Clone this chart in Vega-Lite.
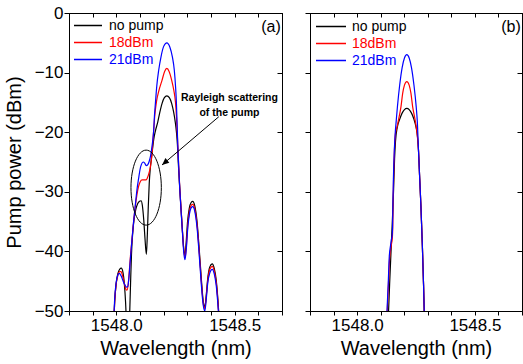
{
"$schema": "https://vega.github.io/schema/vega-lite/v6.json",
"autosize": {"type": "none"},
"padding": {"left": 69, "top": 13, "right": 454, "bottom": 351},
"bounds": "flush",
"spacing": 28,
"config": {
  "font": "Liberation Sans",
  "view": {"stroke": "black", "strokeWidth": 1},
  "axis": {"grid": false, "domainColor": "black", "tickColor": "black", "labelColor": "black", "titleColor": "black",
           "labelFont": "Liberation Sans", "titleFont": "Liberation Sans", "labelFontSize": 17, "titleFontSize": 20,
           "titleFontWeight": "normal", "domainWidth": 1, "tickWidth": 1},
  "legend": {"padding": 0, "title": null, "symbolType": "stroke", "labelFont": "Liberation Sans", "labelFontSize": 14, "clipHeight": 17, "rowPadding": 0}
},
"datasets": {
  "spectra": [
{"panel":"a","series":"no pump","wavelength":1547.988,"power":-53},
{"panel":"a","series":"no pump","wavelength":1547.993,"power":-48.5},
{"panel":"a","series":"no pump","wavelength":1547.999,"power":-45.5},
{"panel":"a","series":"no pump","wavelength":1548.006,"power":-43.8},
{"panel":"a","series":"no pump","wavelength":1548.014,"power":-43.0},
{"panel":"a","series":"no pump","wavelength":1548.021,"power":-42.8},
{"panel":"a","series":"no pump","wavelength":1548.028,"power":-43.5},
{"panel":"a","series":"no pump","wavelength":1548.034,"power":-45.5},
{"panel":"a","series":"no pump","wavelength":1548.039,"power":-48.5},
{"panel":"a","series":"no pump","wavelength":1548.043,"power":-52},
{"panel":"a","series":"no pump","wavelength":1548.050,"power":-58},
{"panel":"a","series":"no pump","wavelength":1548.056,"power":-51},
{"panel":"a","series":"no pump","wavelength":1548.060,"power":-45.5},
{"panel":"a","series":"no pump","wavelength":1548.064,"power":-40.5},
{"panel":"a","series":"no pump","wavelength":1548.069,"power":-37},
{"panel":"a","series":"no pump","wavelength":1548.075,"power":-34.6},
{"panel":"a","series":"no pump","wavelength":1548.082,"power":-33.0},
{"panel":"a","series":"no pump","wavelength":1548.090,"power":-32.0},
{"panel":"a","series":"no pump","wavelength":1548.098,"power":-31.6},
{"panel":"a","series":"no pump","wavelength":1548.1045,"power":-31.5},
{"panel":"a","series":"no pump","wavelength":1548.110,"power":-32.3},
{"panel":"a","series":"no pump","wavelength":1548.116,"power":-34.8},
{"panel":"a","series":"no pump","wavelength":1548.121,"power":-37.8},
{"panel":"a","series":"no pump","wavelength":1548.127,"power":-40.5},
{"panel":"a","series":"no pump","wavelength":1548.131,"power":-37.2},
{"panel":"a","series":"no pump","wavelength":1548.135,"power":-32.5},
{"panel":"a","series":"no pump","wavelength":1548.139,"power":-28.6},
{"panel":"a","series":"no pump","wavelength":1548.143,"power":-26.3},
{"panel":"a","series":"no pump","wavelength":1548.148,"power":-24.5},
{"panel":"a","series":"no pump","wavelength":1548.153,"power":-22.8},
{"panel":"a","series":"no pump","wavelength":1548.158,"power":-21.2},
{"panel":"a","series":"no pump","wavelength":1548.165,"power":-19.8},
{"panel":"a","series":"no pump","wavelength":1548.175,"power":-18.3},
{"panel":"a","series":"no pump","wavelength":1548.183,"power":-16.8},
{"panel":"a","series":"no pump","wavelength":1548.193,"power":-15.2},
{"panel":"a","series":"no pump","wavelength":1548.203,"power":-14.2},
{"panel":"a","series":"no pump","wavelength":1548.2135,"power":-13.9},
{"panel":"a","series":"no pump","wavelength":1548.224,"power":-14.2},
{"panel":"a","series":"no pump","wavelength":1548.234,"power":-15.2},
{"panel":"a","series":"no pump","wavelength":1548.242,"power":-16.6},
{"panel":"a","series":"no pump","wavelength":1548.249,"power":-18.3},
{"panel":"a","series":"no pump","wavelength":1548.254,"power":-20},
{"panel":"a","series":"no pump","wavelength":1548.258,"power":-22},
{"panel":"a","series":"no pump","wavelength":1548.262,"power":-25.3},
{"panel":"a","series":"no pump","wavelength":1548.267,"power":-28.8},
{"panel":"a","series":"no pump","wavelength":1548.272,"power":-32},
{"panel":"a","series":"no pump","wavelength":1548.278,"power":-35.8},
{"panel":"a","series":"no pump","wavelength":1548.284,"power":-39.2},
{"panel":"a","series":"no pump","wavelength":1548.290,"power":-40.6},
{"panel":"a","series":"no pump","wavelength":1548.295,"power":-38.5},
{"panel":"a","series":"no pump","wavelength":1548.301,"power":-35},
{"panel":"a","series":"no pump","wavelength":1548.308,"power":-32.8},
{"panel":"a","series":"no pump","wavelength":1548.316,"power":-31.8},
{"panel":"a","series":"no pump","wavelength":1548.323,"power":-31.6},
{"panel":"a","series":"no pump","wavelength":1548.331,"power":-32.3},
{"panel":"a","series":"no pump","wavelength":1548.341,"power":-35.0},
{"panel":"a","series":"no pump","wavelength":1548.350,"power":-39.5},
{"panel":"a","series":"no pump","wavelength":1548.359,"power":-44.5},
{"panel":"a","series":"no pump","wavelength":1548.367,"power":-48.3},
{"panel":"a","series":"no pump","wavelength":1548.374,"power":-49.3},
{"panel":"a","series":"no pump","wavelength":1548.380,"power":-47.3},
{"panel":"a","series":"no pump","wavelength":1548.386,"power":-44.6},
{"panel":"a","series":"no pump","wavelength":1548.395,"power":-42.6},
{"panel":"a","series":"no pump","wavelength":1548.405,"power":-42.1},
{"panel":"a","series":"no pump","wavelength":1548.414,"power":-42.9},
{"panel":"a","series":"no pump","wavelength":1548.422,"power":-44.8},
{"panel":"a","series":"no pump","wavelength":1548.429,"power":-48},
{"panel":"a","series":"no pump","wavelength":1548.434,"power":-51},
{"panel":"a","series":"no pump","wavelength":1548.438,"power":-54},
{"panel":"a","series":"18dBm","wavelength":1547.988,"power":-53},
{"panel":"a","series":"18dBm","wavelength":1547.993,"power":-48.5},
{"panel":"a","series":"18dBm","wavelength":1547.999,"power":-45.6},
{"panel":"a","series":"18dBm","wavelength":1548.006,"power":-44.1},
{"panel":"a","series":"18dBm","wavelength":1548.014,"power":-43.4},
{"panel":"a","series":"18dBm","wavelength":1548.020,"power":-43.4},
{"panel":"a","series":"18dBm","wavelength":1548.027,"power":-44.2},
{"panel":"a","series":"18dBm","wavelength":1548.035,"power":-45.6},
{"panel":"a","series":"18dBm","wavelength":1548.041,"power":-46.4},
{"panel":"a","series":"18dBm","wavelength":1548.045,"power":-46.5},
{"panel":"a","series":"18dBm","wavelength":1548.050,"power":-45.6},
{"panel":"a","series":"18dBm","wavelength":1548.055,"power":-43.2},
{"panel":"a","series":"18dBm","wavelength":1548.060,"power":-40.6},
{"panel":"a","series":"18dBm","wavelength":1548.066,"power":-38.1},
{"panel":"a","series":"18dBm","wavelength":1548.073,"power":-35.0},
{"panel":"a","series":"18dBm","wavelength":1548.080,"power":-32.5},
{"panel":"a","series":"18dBm","wavelength":1548.087,"power":-30.5},
{"panel":"a","series":"18dBm","wavelength":1548.094,"power":-29.1},
{"panel":"a","series":"18dBm","wavelength":1548.101,"power":-28.3},
{"panel":"a","series":"18dBm","wavelength":1548.109,"power":-28.0},
{"panel":"a","series":"18dBm","wavelength":1548.118,"power":-28.0},
{"panel":"a","series":"18dBm","wavelength":1548.126,"power":-28.0},
{"panel":"a","series":"18dBm","wavelength":1548.131,"power":-27.7},
{"panel":"a","series":"18dBm","wavelength":1548.137,"power":-27.0},
{"panel":"a","series":"18dBm","wavelength":1548.144,"power":-25.8},
{"panel":"a","series":"18dBm","wavelength":1548.151,"power":-23.5},
{"panel":"a","series":"18dBm","wavelength":1548.155,"power":-21.2},
{"panel":"a","series":"18dBm","wavelength":1548.158,"power":-19.6},
{"panel":"a","series":"18dBm","wavelength":1548.163,"power":-17.0},
{"panel":"a","series":"18dBm","wavelength":1548.170,"power":-14.8},
{"panel":"a","series":"18dBm","wavelength":1548.180,"power":-13.0},
{"panel":"a","series":"18dBm","wavelength":1548.193,"power":-11.3},
{"panel":"a","series":"18dBm","wavelength":1548.204,"power":-9.8},
{"panel":"a","series":"18dBm","wavelength":1548.2135,"power":-9.3},
{"panel":"a","series":"18dBm","wavelength":1548.223,"power":-9.8},
{"panel":"a","series":"18dBm","wavelength":1548.234,"power":-11.3},
{"panel":"a","series":"18dBm","wavelength":1548.243,"power":-13.0},
{"panel":"a","series":"18dBm","wavelength":1548.250,"power":-15.0},
{"panel":"a","series":"18dBm","wavelength":1548.254,"power":-17.3},
{"panel":"a","series":"18dBm","wavelength":1548.257,"power":-19.8},
{"panel":"a","series":"18dBm","wavelength":1548.260,"power":-22.5},
{"panel":"a","series":"18dBm","wavelength":1548.264,"power":-26},
{"panel":"a","series":"18dBm","wavelength":1548.268,"power":-29.3},
{"panel":"a","series":"18dBm","wavelength":1548.273,"power":-32.5},
{"panel":"a","series":"18dBm","wavelength":1548.279,"power":-36.3},
{"panel":"a","series":"18dBm","wavelength":1548.285,"power":-39.8},
{"panel":"a","series":"18dBm","wavelength":1548.291,"power":-41.0},
{"panel":"a","series":"18dBm","wavelength":1548.296,"power":-39},
{"panel":"a","series":"18dBm","wavelength":1548.302,"power":-35.5},
{"panel":"a","series":"18dBm","wavelength":1548.309,"power":-33.2},
{"panel":"a","series":"18dBm","wavelength":1548.316,"power":-32.3},
{"panel":"a","series":"18dBm","wavelength":1548.323,"power":-32.1},
{"panel":"a","series":"18dBm","wavelength":1548.331,"power":-32.8},
{"panel":"a","series":"18dBm","wavelength":1548.341,"power":-35.5},
{"panel":"a","series":"18dBm","wavelength":1548.350,"power":-40},
{"panel":"a","series":"18dBm","wavelength":1548.359,"power":-45},
{"panel":"a","series":"18dBm","wavelength":1548.367,"power":-48.6},
{"panel":"a","series":"18dBm","wavelength":1548.374,"power":-49.6},
{"panel":"a","series":"18dBm","wavelength":1548.380,"power":-47.6},
{"panel":"a","series":"18dBm","wavelength":1548.386,"power":-45},
{"panel":"a","series":"18dBm","wavelength":1548.395,"power":-43.0},
{"panel":"a","series":"18dBm","wavelength":1548.405,"power":-42.5},
{"panel":"a","series":"18dBm","wavelength":1548.414,"power":-43.3},
{"panel":"a","series":"18dBm","wavelength":1548.422,"power":-45.2},
{"panel":"a","series":"18dBm","wavelength":1548.429,"power":-48.3},
{"panel":"a","series":"18dBm","wavelength":1548.434,"power":-51.3},
{"panel":"a","series":"18dBm","wavelength":1548.438,"power":-54},
{"panel":"a","series":"21dBm","wavelength":1547.988,"power":-53},
{"panel":"a","series":"21dBm","wavelength":1547.993,"power":-48},
{"panel":"a","series":"21dBm","wavelength":1547.999,"power":-45.3},
{"panel":"a","series":"21dBm","wavelength":1548.006,"power":-44.0},
{"panel":"a","series":"21dBm","wavelength":1548.0127,"power":-43.7},
{"panel":"a","series":"21dBm","wavelength":1548.020,"power":-44.1},
{"panel":"a","series":"21dBm","wavelength":1548.028,"power":-44.9},
{"panel":"a","series":"21dBm","wavelength":1548.036,"power":-45.6},
{"panel":"a","series":"21dBm","wavelength":1548.043,"power":-46.0},
{"panel":"a","series":"21dBm","wavelength":1548.048,"power":-45.9},
{"panel":"a","series":"21dBm","wavelength":1548.053,"power":-44.5},
{"panel":"a","series":"21dBm","wavelength":1548.058,"power":-42},
{"panel":"a","series":"21dBm","wavelength":1548.063,"power":-39.5},
{"panel":"a","series":"21dBm","wavelength":1548.066,"power":-38.1},
{"panel":"a","series":"21dBm","wavelength":1548.073,"power":-35.0},
{"panel":"a","series":"21dBm","wavelength":1548.080,"power":-32.3},
{"panel":"a","series":"21dBm","wavelength":1548.087,"power":-29.7},
{"panel":"a","series":"21dBm","wavelength":1548.094,"power":-27.8},
{"panel":"a","series":"21dBm","wavelength":1548.100,"power":-26.3},
{"panel":"a","series":"21dBm","wavelength":1548.106,"power":-25.4},
{"panel":"a","series":"21dBm","wavelength":1548.113,"power":-25.0},
{"panel":"a","series":"21dBm","wavelength":1548.120,"power":-25.2},
{"panel":"a","series":"21dBm","wavelength":1548.126,"power":-25.6},
{"panel":"a","series":"21dBm","wavelength":1548.132,"power":-25.5},
{"panel":"a","series":"21dBm","wavelength":1548.138,"power":-25.0},
{"panel":"a","series":"21dBm","wavelength":1548.144,"power":-24.1},
{"panel":"a","series":"21dBm","wavelength":1548.150,"power":-22.6},
{"panel":"a","series":"21dBm","wavelength":1548.155,"power":-21.0},
{"panel":"a","series":"21dBm","wavelength":1548.158,"power":-19.6},
{"panel":"a","series":"21dBm","wavelength":1548.161,"power":-17.3},
{"panel":"a","series":"21dBm","wavelength":1548.165,"power":-15.2},
{"panel":"a","series":"21dBm","wavelength":1548.171,"power":-12.2},
{"panel":"a","series":"21dBm","wavelength":1548.179,"power":-9.6},
{"panel":"a","series":"21dBm","wavelength":1548.189,"power":-7.3},
{"panel":"a","series":"21dBm","wavelength":1548.200,"power":-5.6},
{"panel":"a","series":"21dBm","wavelength":1548.2135,"power":-5.0},
{"panel":"a","series":"21dBm","wavelength":1548.226,"power":-5.7},
{"panel":"a","series":"21dBm","wavelength":1548.237,"power":-7.4},
{"panel":"a","series":"21dBm","wavelength":1548.245,"power":-9.6},
{"panel":"a","series":"21dBm","wavelength":1548.250,"power":-12.2},
{"panel":"a","series":"21dBm","wavelength":1548.254,"power":-15.2},
{"panel":"a","series":"21dBm","wavelength":1548.257,"power":-19.0},
{"panel":"a","series":"21dBm","wavelength":1548.260,"power":-22.6},
{"panel":"a","series":"21dBm","wavelength":1548.264,"power":-26.2},
{"panel":"a","series":"21dBm","wavelength":1548.268,"power":-29.5},
{"panel":"a","series":"21dBm","wavelength":1548.273,"power":-32.8},
{"panel":"a","series":"21dBm","wavelength":1548.279,"power":-36.6},
{"panel":"a","series":"21dBm","wavelength":1548.285,"power":-40.2},
{"panel":"a","series":"21dBm","wavelength":1548.290,"power":-41.4},
{"panel":"a","series":"21dBm","wavelength":1548.296,"power":-39.4},
{"panel":"a","series":"21dBm","wavelength":1548.302,"power":-36},
{"panel":"a","series":"21dBm","wavelength":1548.309,"power":-33.7},
{"panel":"a","series":"21dBm","wavelength":1548.316,"power":-32.7},
{"panel":"a","series":"21dBm","wavelength":1548.323,"power":-32.5},
{"panel":"a","series":"21dBm","wavelength":1548.331,"power":-33.2},
{"panel":"a","series":"21dBm","wavelength":1548.341,"power":-36},
{"panel":"a","series":"21dBm","wavelength":1548.350,"power":-40.5},
{"panel":"a","series":"21dBm","wavelength":1548.359,"power":-45.5},
{"panel":"a","series":"21dBm","wavelength":1548.367,"power":-49},
{"panel":"a","series":"21dBm","wavelength":1548.374,"power":-50},
{"panel":"a","series":"21dBm","wavelength":1548.380,"power":-48},
{"panel":"a","series":"21dBm","wavelength":1548.386,"power":-45.4},
{"panel":"a","series":"21dBm","wavelength":1548.395,"power":-43.6},
{"panel":"a","series":"21dBm","wavelength":1548.405,"power":-43.0},
{"panel":"a","series":"21dBm","wavelength":1548.414,"power":-43.8},
{"panel":"a","series":"21dBm","wavelength":1548.422,"power":-45.7},
{"panel":"a","series":"21dBm","wavelength":1548.429,"power":-48.8},
{"panel":"a","series":"21dBm","wavelength":1548.434,"power":-51.6},
{"panel":"a","series":"21dBm","wavelength":1548.438,"power":-54},
{"panel":"b","series":"no pump","wavelength":1548.129,"power":-55},
{"panel":"b","series":"no pump","wavelength":1548.1336,"power":-50},
{"panel":"b","series":"no pump","wavelength":1548.138,"power":-45.5},
{"panel":"b","series":"no pump","wavelength":1548.144,"power":-40},
{"panel":"b","series":"no pump","wavelength":1548.150,"power":-34.5},
{"panel":"b","series":"no pump","wavelength":1548.155,"power":-29.5},
{"panel":"b","series":"no pump","wavelength":1548.159,"power":-24.5},
{"panel":"b","series":"no pump","wavelength":1548.163,"power":-21.5},
{"panel":"b","series":"no pump","wavelength":1548.171,"power":-19.1},
{"panel":"b","series":"no pump","wavelength":1548.181,"power":-17.8},
{"panel":"b","series":"no pump","wavelength":1548.191,"power":-16.8},
{"panel":"b","series":"no pump","wavelength":1548.201,"power":-16.2},
{"panel":"b","series":"no pump","wavelength":1548.211,"power":-16.0},
{"panel":"b","series":"no pump","wavelength":1548.221,"power":-16.2},
{"panel":"b","series":"no pump","wavelength":1548.231,"power":-16.8},
{"panel":"b","series":"no pump","wavelength":1548.241,"power":-17.8},
{"panel":"b","series":"no pump","wavelength":1548.251,"power":-19.3},
{"panel":"b","series":"no pump","wavelength":1548.256,"power":-20.6},
{"panel":"b","series":"no pump","wavelength":1548.2605,"power":-23},
{"panel":"b","series":"no pump","wavelength":1548.266,"power":-28},
{"panel":"b","series":"no pump","wavelength":1548.271,"power":-32.5},
{"panel":"b","series":"no pump","wavelength":1548.277,"power":-39},
{"panel":"b","series":"no pump","wavelength":1548.282,"power":-45.5},
{"panel":"b","series":"no pump","wavelength":1548.2855,"power":-51},
{"panel":"b","series":"no pump","wavelength":1548.288,"power":-55},
{"panel":"b","series":"18dBm","wavelength":1548.124,"power":-55},
{"panel":"b","series":"18dBm","wavelength":1548.128,"power":-50},
{"panel":"b","series":"18dBm","wavelength":1548.133,"power":-45.5},
{"panel":"b","series":"18dBm","wavelength":1548.138,"power":-41.2},
{"panel":"b","series":"18dBm","wavelength":1548.143,"power":-39.5},
{"panel":"b","series":"18dBm","wavelength":1548.147,"power":-38.5},
{"panel":"b","series":"18dBm","wavelength":1548.1495,"power":-37.8},
{"panel":"b","series":"18dBm","wavelength":1548.1515,"power":-35.5},
{"panel":"b","series":"18dBm","wavelength":1548.153,"power":-31.5},
{"panel":"b","series":"18dBm","wavelength":1548.155,"power":-27.5},
{"panel":"b","series":"18dBm","wavelength":1548.1585,"power":-23},
{"panel":"b","series":"18dBm","wavelength":1548.163,"power":-20.2},
{"panel":"b","series":"18dBm","wavelength":1548.169,"power":-19.2},
{"panel":"b","series":"18dBm","wavelength":1548.1764,"power":-17.8},
{"panel":"b","series":"18dBm","wavelength":1548.1863,"power":-15.7},
{"panel":"b","series":"18dBm","wavelength":1548.1934,"power":-13.5},
{"panel":"b","series":"18dBm","wavelength":1548.201,"power":-12.1},
{"panel":"b","series":"18dBm","wavelength":1548.211,"power":-11.5},
{"panel":"b","series":"18dBm","wavelength":1548.221,"power":-12.1},
{"panel":"b","series":"18dBm","wavelength":1548.2286,"power":-13.5},
{"panel":"b","series":"18dBm","wavelength":1548.2357,"power":-15.7},
{"panel":"b","series":"18dBm","wavelength":1548.2456,"power":-17.8},
{"panel":"b","series":"18dBm","wavelength":1548.252,"power":-19.4},
{"panel":"b","series":"18dBm","wavelength":1548.256,"power":-20.8},
{"panel":"b","series":"18dBm","wavelength":1548.2605,"power":-23},
{"panel":"b","series":"18dBm","wavelength":1548.266,"power":-28},
{"panel":"b","series":"18dBm","wavelength":1548.271,"power":-32.5},
{"panel":"b","series":"18dBm","wavelength":1548.277,"power":-39},
{"panel":"b","series":"18dBm","wavelength":1548.282,"power":-45.5},
{"panel":"b","series":"18dBm","wavelength":1548.2855,"power":-51},
{"panel":"b","series":"18dBm","wavelength":1548.288,"power":-55},
{"panel":"b","series":"21dBm","wavelength":1548.123,"power":-55},
{"panel":"b","series":"21dBm","wavelength":1548.127,"power":-50},
{"panel":"b","series":"21dBm","wavelength":1548.132,"power":-45.5},
{"panel":"b","series":"21dBm","wavelength":1548.1365,"power":-40.9},
{"panel":"b","series":"21dBm","wavelength":1548.142,"power":-39},
{"panel":"b","series":"21dBm","wavelength":1548.146,"power":-37.9},
{"panel":"b","series":"21dBm","wavelength":1548.1485,"power":-37.4},
{"panel":"b","series":"21dBm","wavelength":1548.1505,"power":-36},
{"panel":"b","series":"21dBm","wavelength":1548.152,"power":-32},
{"panel":"b","series":"21dBm","wavelength":1548.154,"power":-28},
{"panel":"b","series":"21dBm","wavelength":1548.158,"power":-23},
{"panel":"b","series":"21dBm","wavelength":1548.162,"power":-20},
{"panel":"b","series":"21dBm","wavelength":1548.166,"power":-18.1},
{"panel":"b","series":"21dBm","wavelength":1548.171,"power":-15.8},
{"panel":"b","series":"21dBm","wavelength":1548.181,"power":-12},
{"panel":"b","series":"21dBm","wavelength":1548.191,"power":-9.2},
{"panel":"b","series":"21dBm","wavelength":1548.201,"power":-7.55},
{"panel":"b","series":"21dBm","wavelength":1548.211,"power":-7.0},
{"panel":"b","series":"21dBm","wavelength":1548.221,"power":-7.55},
{"panel":"b","series":"21dBm","wavelength":1548.231,"power":-9.2},
{"panel":"b","series":"21dBm","wavelength":1548.241,"power":-12},
{"panel":"b","series":"21dBm","wavelength":1548.251,"power":-15.8},
{"panel":"b","series":"21dBm","wavelength":1548.256,"power":-18.5},
{"panel":"b","series":"21dBm","wavelength":1548.2605,"power":-23},
{"panel":"b","series":"21dBm","wavelength":1548.266,"power":-28},
{"panel":"b","series":"21dBm","wavelength":1548.271,"power":-32.5},
{"panel":"b","series":"21dBm","wavelength":1548.277,"power":-39},
{"panel":"b","series":"21dBm","wavelength":1548.282,"power":-45.5},
{"panel":"b","series":"21dBm","wavelength":1548.2855,"power":-51},
{"panel":"b","series":"21dBm","wavelength":1548.288,"power":-55}
  ],
  "panelLabels": [
    {"panel": "a", "wavelength": 1548.695, "power": -2.3, "label": "(a)"},
    {"panel": "b", "wavelength": 1548.695, "power": -2.3, "label": "(b)"}
  ],
  "note": [
    {"wavelength": 1548.478, "power": -14.3, "label": "Rayleigh scattering\nof the pump"}
  ],
  "ellipse": [
    {"wavelength": 1548.126, "power": -29.3}
  ],
  "arrow": [
    {"wavelength": 1548.433, "power": -17.4, "wavelength2": 1548.193, "power2": -25.5}
  ]
},
"resolve": {"scale": {"color": "independent"}, "legend": {"color": "independent"}},
"hconcat": [
  {
    "width": 213,
    "height": 298,
    "resolve": {"axis": {"x": "independent", "y": "independent"}},
    "layer": [
      {
        "data": {"name": "spectra"},
        "transform": [{"filter": "datum.panel === 'a'"}],
        "mark": {"type": "line", "interpolate": "monotone", "clip": true, "strokeWidth": 1.2},
        "encoding": {
          "x": {"field": "wavelength", "type": "quantitative",
                "scale": {"domain": [1547.8, 1548.7], "nice": false, "zero": false},
                "axis": {"title": "Wavelength (nm)", "values": [1547.8, 1547.9, 1548, 1548.1, 1548.2, 1548.3, 1548.4, 1548.5, 1548.6, 1548.7],
                         "labelExpr": "datum.value === 1548 || datum.value === 1548.5 ? format(datum.value, '.1f') : ''",
                         "tickSize": 4, "labelPadding": 2, "titlePadding": 5, "labelFlush": false}},
          "y": {"field": "power", "type": "quantitative",
                "scale": {"domain": [-50, 0], "nice": false, "zero": false},
                "axis": {"title": "Pump power (dBm)", "values": [-50, -40, -30, -20, -10, 0], "tickSize": 5, "labelPadding": 1, "titlePadding": 10}},
          "color": {"field": "series", "type": "nominal",
                    "scale": {"domain": ["no pump", "18dBm", "21dBm"], "range": ["#000000", "#ff0000", "#0000ff"]},
                    "legend": {"orient": "top-left", "offset": 4, "symbolSize": 784, "symbolStrokeWidth": 1.3, "labelOffset": 6,
                               "encode": {"labels": {"update": {"fill": {"signal": "datum.value === '18dBm' ? '#ff0000' : datum.value === '21dBm' ? '#0000ff' : '#000000'"}}}}}}
        }
      },
      {
        "data": {"name": "ellipse"},
        "mark": {"type": "point", "shape": "M-0.405,0A0.405,1,0,1,0,0.405,0A0.405,1,0,1,0,-0.405,0Z", "size": 5625, "filled": false, "color": "black", "strokeWidth": 1, "opacity": 1},
        "encoding": {
          "x": {"field": "wavelength", "type": "quantitative",
                "axis": {"orient": "top", "labels": false, "title": null, "tickSize": -4, "values": [1547.8, 1547.9, 1548, 1548.1, 1548.2, 1548.3, 1548.4, 1548.5, 1548.6, 1548.7]}},
          "y": {"field": "power", "type": "quantitative",
                "axis": {"orient": "right", "labels": false, "title": null, "tickSize": -5, "values": [-50, -40, -30, -20, -10, 0]}}
        }
      },
      {
        "data": {"name": "arrow"},
        "mark": {"type": "rule", "color": "black", "strokeWidth": 1},
        "encoding": {
          "x": {"field": "wavelength", "type": "quantitative", "axis": null},
          "y": {"field": "power", "type": "quantitative", "axis": null},
          "x2": {"field": "wavelength2"},
          "y2": {"field": "power2"}
        }
      },
      {
        "data": {"name": "arrow"},
        "mark": {"type": "point", "shape": "M0,0L-0.42,1L0.42,1Z", "size": 200, "filled": true, "color": "black", "opacity": 1, "angle": 229.4},
        "encoding": {
          "x": {"field": "wavelength2", "type": "quantitative", "axis": null},
          "y": {"field": "power2", "type": "quantitative", "axis": null}
        }
      },
      {
        "data": {"name": "note"},
        "mark": {"type": "text", "font": "Liberation Sans", "fontSize": 10.5, "fontWeight": "bold", "lineBreak": "\n", "lineHeight": 15, "align": "center", "baseline": "middle", "color": "black"},
        "encoding": {
          "x": {"field": "wavelength", "type": "quantitative", "axis": null},
          "y": {"field": "power", "type": "quantitative", "axis": null},
          "text": {"field": "label"}
        }
      },
      {
        "data": {"name": "panelLabels"},
        "transform": [{"filter": "datum.panel === 'a'"}],
        "mark": {"type": "text", "font": "Liberation Sans", "fontSize": 16, "align": "right", "baseline": "middle", "color": "black"},
        "encoding": {
          "x": {"field": "wavelength", "type": "quantitative", "axis": null},
          "y": {"field": "power", "type": "quantitative", "axis": null},
          "text": {"field": "label"}
        }
      }
    ]
  },
  {
    "width": 212,
    "height": 298,
    "resolve": {"axis": {"x": "independent", "y": "independent"}},
    "layer": [
      {
        "data": {"name": "spectra"},
        "transform": [{"filter": "datum.panel === 'b'"}],
        "mark": {"type": "line", "interpolate": "monotone", "clip": true, "strokeWidth": 1.2},
        "encoding": {
          "x": {"field": "wavelength", "type": "quantitative",
                "scale": {"domain": [1547.8, 1548.7], "nice": false, "zero": false},
                "axis": {"title": "Wavelength (nm)", "values": [1547.8, 1547.9, 1548, 1548.1, 1548.2, 1548.3, 1548.4, 1548.5, 1548.6, 1548.7],
                         "labelExpr": "datum.value === 1548 || datum.value === 1548.5 ? format(datum.value, '.1f') : ''",
                         "tickSize": 4, "labelPadding": 2, "titlePadding": 5, "labelFlush": false}},
          "y": {"field": "power", "type": "quantitative",
                "scale": {"domain": [-50, 0], "nice": false, "zero": false},
                "axis": {"title": null, "labels": false, "values": [-50, -40, -30, -20, -10, 0], "tickSize": 5}},
          "color": {"field": "series", "type": "nominal",
                    "scale": {"domain": ["no pump", "18dBm", "21dBm"], "range": ["#000000", "#ff0000", "#0000ff"]},
                    "legend": {"orient": "top-left", "offset": 5, "symbolSize": 900, "symbolStrokeWidth": 1.3, "labelOffset": 5,
                               "encode": {"labels": {"update": {"fill": {"signal": "datum.value === '18dBm' ? '#ff0000' : datum.value === '21dBm' ? '#0000ff' : '#000000'"}}}}}}
        }
      },
      {
        "data": {"name": "panelLabels"},
        "transform": [{"filter": "datum.panel === 'b'"}],
        "mark": {"type": "text", "font": "Liberation Sans", "fontSize": 16, "align": "right", "baseline": "middle", "color": "black"},
        "encoding": {
          "x": {"field": "wavelength", "type": "quantitative",
                "axis": {"orient": "top", "labels": false, "title": null, "tickSize": -4, "values": [1547.8, 1547.9, 1548, 1548.1, 1548.2, 1548.3, 1548.4, 1548.5, 1548.6, 1548.7]}},
          "y": {"field": "power", "type": "quantitative",
                "axis": {"orient": "right", "labels": false, "title": null, "tickSize": -5, "values": [-50, -40, -30, -20, -10, 0]}},
          "text": {"field": "label"}
        }
      }
    ]
  }
]
}
